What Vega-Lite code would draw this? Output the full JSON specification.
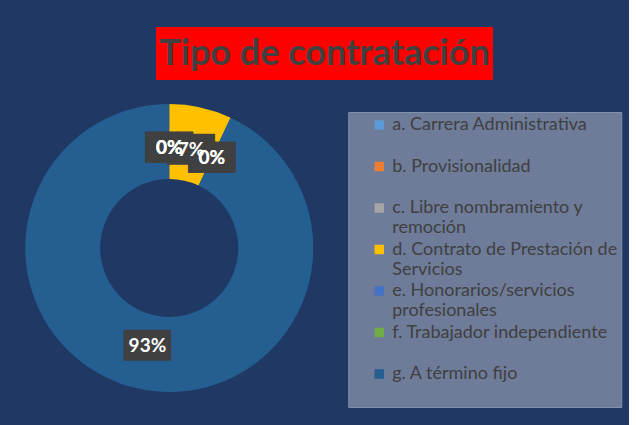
{
  "$schema": "https://vega.github.io/schema/vega-lite/v6.json",
  "background": "#203864",
  "padding": {"left": 25, "top": 27, "right": 7, "bottom": 37},
  "config": {"view": {"stroke": null}},
  "spacing": 24,
  "center": true,
  "resolve": {"legend": {"color": "independent"}},
  "vconcat": [
    {
      "width": 337,
      "height": 53,
      "view": {"fill": "#ff0000", "stroke": null},
      "data": {"values": [{"titulo": "Tipo de contratación"}]},
      "mark": {"type": "text", "font": "Lato", "fontWeight": "bold", "fontSize": 36, "color": "#404040", "align": "center", "baseline": "middle"},
      "encoding": {"text": {"field": "titulo"}}
    },
    {
      "width": 284,
      "height": 284,
      "data": {
        "values": [
          {"categoria": "a. Carrera Administrativa", "valor": 0},
          {"categoria": "b. Provisionalidad", "valor": 0},
          {"categoria": "c. Libre nombramiento y remoción", "valor": 0},
          {"categoria": "d. Contrato de Prestación de Servicios", "valor": 0.07},
          {"categoria": "e. Honorarios/servicios profesionales", "valor": 0},
          {"categoria": "f. Trabajador independiente", "valor": 0},
          {"categoria": "g. A término fijo", "valor": 0.93}
        ]
      },
      "encoding": {
        "theta": {"field": "valor", "type": "quantitative", "stack": true},
        "detail": {"field": "categoria", "type": "nominal"},
        "order": {"field": "categoria", "type": "nominal", "sort": "ascending"}
      },
      "layer": [
        {
          "mark": {"type": "arc", "innerRadius": 69, "outerRadius": 144},
          "encoding": {
            "color": {
              "field": "categoria",
              "type": "nominal",
              "sort": null,
              "scale": {
                "domain": ["a. Carrera Administrativa", "b. Provisionalidad", "c. Libre nombramiento y remoción", "d. Contrato de Prestación de Servicios", "e. Honorarios/servicios profesionales", "f. Trabajador independiente", "g. A término fijo"],
                "range": ["#5b9bd5", "#ed7d31", "#a5a5a5", "#ffc000", "#4472c4", "#70ad47", "#255e91"]
              },
              "legend": {
                "orient": "none",
                "legendX": 321,
                "legendY": 6,
                "title": null,
                "fillColor": "#6e7b99",
                "strokeColor": "#8390ab",
                "padding": 4,
                "symbolOffset": 18,
                "symbolType": "square",
                "symbolSize": 90,
                "symbolStrokeWidth": 0,
                "labelFont": "Lato",
                "labelFontSize": 18,
                "labelColor": "#404040",
                "labelLimit": 400,
                "labelBaseline": "top",
                "rowPadding": 3.5,
                "encode": {"labels": {"update": {"dy": {"value": -9}}}},
                "labelExpr": "datum.label == 'c. Libre nombramiento y remoción' ? ['c. Libre nombramiento y', 'remoción'] : datum.label == 'd. Contrato de Prestación de Servicios' ? ['d. Contrato de Prestación de      ', 'Servicios'] : datum.label == 'e. Honorarios/servicios profesionales' ? ['e. Honorarios/servicios', 'profesionales'] : [datum.label, ' ']"
              }
            }
          }
        },
        {
          "mark": {"type": "text", "radius": 100, "text": "███", "font": "DejaVu Sans Mono", "fontSize": 26, "color": "#404040"}
        },
        {
          "mark": {"type": "text", "radius": 100, "font": "Lato", "fontWeight": "bold", "fontSize": 19, "color": "#ffffff"},
          "encoding": {
            "text": {"field": "valor", "type": "quantitative", "format": ".0%"}
          }
        }
      ]
    }
  ]
}
